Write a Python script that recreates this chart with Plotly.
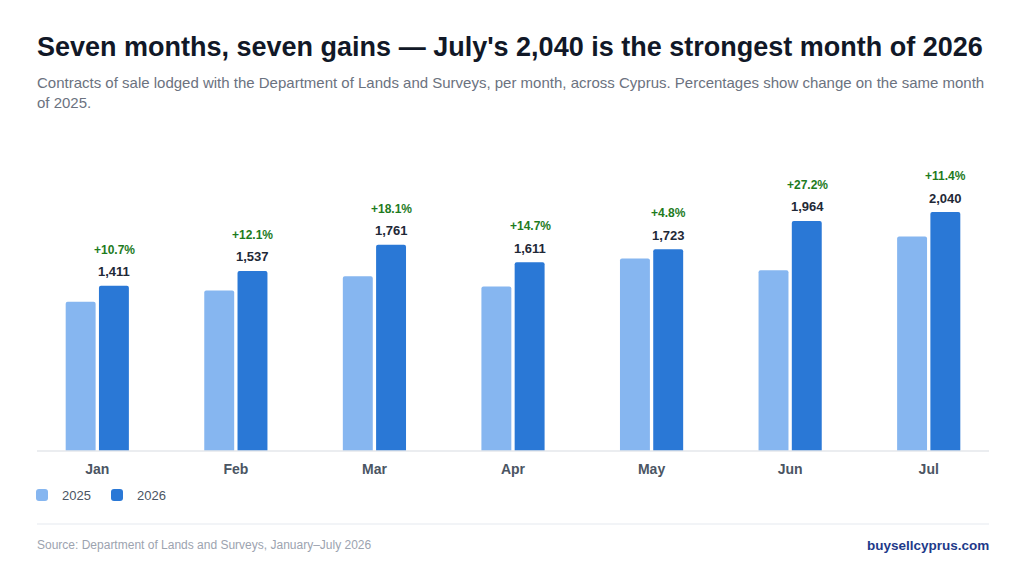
import plotly.graph_objects as go

# Monthly contracts of sale, Cyprus
months = ["Jan", "Feb", "Mar", "Apr", "May", "Jun", "Jul"]
sales_2025 = [1275, 1371, 1491, 1405, 1644, 1544, 1831]
sales_2026 = [1411, 1537, 1761, 1611, 1723, 1964, 2040]
change_pct = ["+10.7%", "+12.1%", "+18.1%", "+14.7%", "+4.8%", "+27.2%", "+11.4%"]

# page has an 8px body margin, so the figure is drawn a bit smaller and offset
OFF = 8
W, H = 1024 - 2 * OFF, 575 - 2 * OFF
ML, MR, MT, MB = 28 - OFF, 26 - OFF, 150 - OFF, 124 - OFF
FONT = "Liberation Sans, Arial, sans-serif"


def px_x(px):
    """ Convert a page pixel x into paper coords """
    return (px - OFF - ML) / (W - ML - MR)


def px_y(py):
    """ Convert a page pixel y into paper coords """
    return (H - MB - (py - OFF)) / (H - MT - MB)


fig = go.Figure()
fig.add_trace(go.Bar(x=months, y=sales_2025, name="2025",
                     marker=dict(color="#86B6F0", line=dict(width=0))))
fig.add_trace(go.Bar(x=months, y=sales_2026, name="2026",
                     marker=dict(color="#2A78D6", line=dict(width=0))))

annotations = []
# Value and change labels above the 2026 bars
for m, v, pct in zip(months, sales_2026, change_pct):
    annotations.append(dict(x=m, y=v, xref="x", yref="y", text=f"<b>{v:,}</b>",
                            showarrow=False, xshift=17, yshift=14, yanchor="middle",
                            font=dict(size=13, color="#1F2937", family=FONT)))
    annotations.append(dict(x=m, y=v, xref="x", yref="y", text=f"<b>{pct}</b>",
                            showarrow=False, xshift=17, yshift=36, yanchor="middle",
                            font=dict(size=12, color="#1E7B1E", family=FONT)))

# Title, subtitle, footer
annotations.append(dict(x=px_x(35), y=px_y(47), xref="paper", yref="paper",
                        text="<b>Seven months, seven gains — July's 2,040 is the strongest month of 2026</b>",
                        showarrow=False, xanchor="left", yanchor="middle",
                        font=dict(size=27, color="#111827", family=FONT)))
annotations.append(dict(x=px_x(35), y=px_y(92), xref="paper", yref="paper",
                        text="Contracts of sale lodged with the Department of Lands and Surveys, per month, across Cyprus. Percentages show change on the same month<br>of 2025.",
                        showarrow=False, xanchor="left", yanchor="middle", align="left",
                        font=dict(size=15, color="#6B7280", family=FONT)))
annotations.append(dict(x=px_x(35), y=px_y(545), xref="paper", yref="paper",
                        text="Source: Department of Lands and Surveys, January–July 2026",
                        showarrow=False, xanchor="left", yanchor="middle",
                        font=dict(size=12, color="#9CA3AF", family=FONT)))
annotations.append(dict(x=px_x(991), y=px_y(545), xref="paper", yref="paper",
                        text="<b>buysellcyprus.com</b>",
                        showarrow=False, xanchor="right", yanchor="middle",
                        font=dict(size=13.5, color="#1E3A8A", family=FONT)))

shapes = [
    # baseline
    dict(type="line", xref="paper", yref="paper", x0=px_x(37), x1=px_x(989),
         y0=px_y(451), y1=px_y(451), line=dict(color="#E5E7EB", width=1.5)),
    # footer divider
    dict(type="line", xref="paper", yref="paper", x0=px_x(37), x1=px_x(989),
         y0=px_y(524), y1=px_y(524), line=dict(color="#EEF1F5", width=1.5)),
]

fig.update_layout(
    width=W, height=H,
    margin=dict(l=ML, r=MR, t=MT, b=MB),
    paper_bgcolor="white", plot_bgcolor="white",
    barmode="group", bargap=0.52, bargroupgap=0.1, barcornerradius=2,
    font=dict(family=FONT),
    showlegend=True,
    legend=dict(orientation="h", x=px_x(22), y=px_y(495), xanchor="left", yanchor="middle",
                font=dict(size=13, color="#4B5563", family=FONT),
                itemwidth=30, entrywidth=30, entrywidthmode="pixels", traceorder="normal"),
    annotations=annotations,
    shapes=shapes,
)
fig.update_xaxes(showgrid=False, showline=False, ticks="", ticklabelstandoff=8,
                 tickfont=dict(size=14, color="#4B5563", family=FONT),
                 tickvals=months, ticktext=[f"<b>{m}</b>" for m in months])
fig.update_yaxes(range=[0, 2570], visible=False, showgrid=False, zeroline=False)

fig.write_html("out.html")
